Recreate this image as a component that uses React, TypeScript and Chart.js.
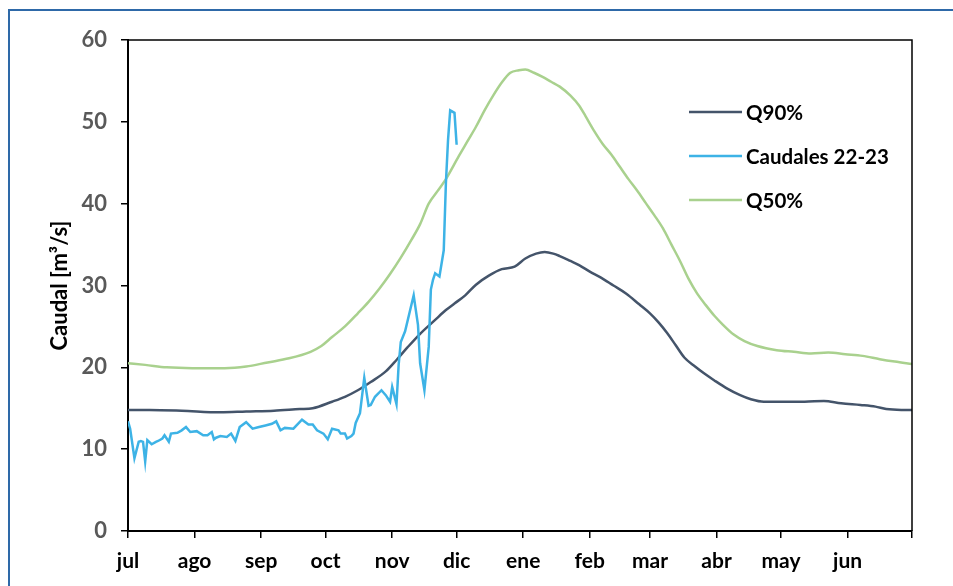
import React, { useEffect, useRef } from "react";
import { Chart, registerables } from "chart.js";

Chart.register(...registerables);

// Month tick labels (first day of each month, hydrological year jul-jun)
const monthLabels = ["jul", "ago", "sep", "oct", "nov", "dic", "ene", "feb", "mar", "abr", "may", "jun", ""];
const monthStartDays = [0, 31, 62, 92, 123, 153, 184, 215, 243, 274, 304, 335, 365];

// Q90%
const q90Days = [0, 10, 25, 43, 55, 68, 80, 86, 95, 101, 107, 113, 120, 125, 130, 136, 143, 148, 152, 157, 162, 168, 174, 180, 185, 190, 194, 198, 201, 206, 210, 215, 220, 226, 232, 238, 243, 247, 251, 255, 259, 264, 268, 273, 279, 285, 290, 296, 302, 315, 324, 332, 341, 348, 353, 360, 365];
const q90Values = [14.8, 14.8, 14.7, 14.5, 14.6, 14.7, 14.9, 15.0, 15.8, 16.4, 17.2, 18.2, 19.5, 20.9, 22.4, 24.1, 25.8, 27.0, 27.8, 28.8, 30.1, 31.2, 32.0, 32.3, 33.3, 33.9, 34.1, 33.9, 33.6, 33.0, 32.5, 31.7, 31.0, 30.0, 29.0, 27.7, 26.6, 25.5, 24.2, 22.7, 21.2, 20.1, 19.3, 18.4, 17.4, 16.6, 16.1, 15.8, 15.8, 15.8, 15.9, 15.6, 15.4, 15.2, 14.9, 14.8, 14.8];

// Q50%
const q50Days = [0, 8, 18, 30, 45, 55, 65, 75, 85, 90, 95, 101, 107, 112, 117, 122, 127, 132, 136, 140, 144, 148, 154, 158, 162, 166, 170, 174, 178, 182, 185, 189, 193, 197, 201, 206, 210, 213, 217, 221, 225, 229, 233, 237, 241, 245, 249, 253, 257, 261, 265, 269, 273, 277, 282, 287, 293, 302, 310, 318, 326, 334, 342, 350, 357, 365];
const q50Values = [20.5, 20.3, 20.0, 19.9, 19.9, 20.1, 20.6, 21.1, 21.9, 22.6, 23.7, 25.0, 26.6, 28.0, 29.6, 31.4, 33.4, 35.6, 37.5, 40.0, 41.5, 43.0, 45.8, 47.6, 49.4, 51.4, 53.2, 54.8, 56.0, 56.3, 56.4, 56.0, 55.5, 54.9, 54.3, 53.2, 52.0, 50.7, 48.9, 47.3, 46.0, 44.5, 43.0, 41.6, 40.1, 38.6, 37.0, 35.0, 33.0, 30.8, 29.0, 27.6, 26.3, 25.2, 24.0, 23.2, 22.6, 22.1, 21.9, 21.7, 21.8, 21.6, 21.4, 21.0, 20.7, 20.4];

// Caudales 22-23
const caudalDays = [0, 1, 3, 5, 6, 7, 8, 9, 11, 13, 14, 16, 17, 19, 20, 23, 25, 27, 29, 32, 35, 37, 39, 40, 41, 43, 46, 48, 50, 52, 55, 58, 61, 64, 67, 69, 71, 73, 77, 81, 84, 86, 88, 91, 93, 95, 98, 99, 101, 102, 104, 105, 106, 108, 110, 112, 113, 115, 118, 120, 122, 123, 125, 126, 127, 129, 133, 135, 136, 138, 140, 141, 142, 143, 145, 147, 148, 149, 150, 152, 153];
const caudalValues = [13.4, 12.5, 8.9, 10.9, 11.0, 10.9, 8.5, 11.1, 10.6, 10.9, 11.0, 11.3, 11.7, 10.9, 11.9, 12.0, 12.3, 12.7, 12.1, 12.2, 11.7, 11.7, 12.1, 11.2, 11.4, 11.6, 11.5, 11.9, 11.0, 12.7, 13.3, 12.5, 12.7, 12.9, 13.1, 13.4, 12.3, 12.6, 12.5, 13.6, 13.0, 13.0, 12.3, 11.9, 11.2, 12.5, 12.3, 11.9, 11.9, 11.3, 11.6, 11.9, 13.2, 14.4, 18.7, 15.3, 15.4, 16.4, 17.2, 16.6, 15.8, 17.6, 15.5, 20.3, 23.1, 24.4, 28.8, 25.2, 20.5, 17.2, 22.5, 29.5, 30.7, 31.5, 31.1, 34.3, 42.5, 47.8, 51.4, 51.1, 47.2];

const legendOrder = ["Q90%", "Caudales 22-23", "Q50%"];

const FONT = 'Lato, "Open Sans", "Liberation Sans", sans-serif';

const toXY = (days: number[], vals: number[]) => days.map((d, i) => ({ x: d, y: vals[i] }));

const framePlugin = {
  id: "frame",
  afterDraw(chart: any) {
    const { ctx, chartArea } = chart;
    ctx.save();
    ctx.strokeStyle = "#000";
    ctx.lineWidth = 1.5;
    ctx.beginPath();
    ctx.moveTo(chartArea.left, chartArea.top);
    ctx.lineTo(chartArea.right, chartArea.top);
    ctx.lineTo(chartArea.right, chartArea.bottom);
    ctx.stroke();
    ctx.restore();
  },
};

const legendPlugin = {
  id: "customLegend",
  afterDraw(chart: any) {
    const { ctx, chartArea } = chart;
    ctx.save();
    ctx.font = `bold 20.5px ${FONT}`;
    ctx.textBaseline = "middle";
    ctx.textAlign = "left";
    legendOrder.forEach((label, i) => {
      const ds = chart.data.datasets.find((d: any) => d.label === label);
      if (!ds) return;
      const y = chartArea.top + 72 + i * 44;
      const x0 = chartArea.right - 223;
      ctx.strokeStyle = ds.borderColor;
      ctx.lineWidth = ds.borderWidth;
      ctx.beginPath();
      ctx.moveTo(x0, y);
      ctx.lineTo(x0 + 53, y);
      ctx.stroke();
      ctx.fillStyle = "#000";
      ctx.fillText(label, x0 + 57, y + 1);
    });
    ctx.restore();
  },
};

function ChartView() {
  const ref = useRef<HTMLCanvasElement | null>(null);
  useEffect(() => {
    if (!ref.current) return;
    const chart = new Chart(ref.current, {
      type: "line",
      data: {
        datasets: [
          {
            label: "Caudales 22-23",
            data: toXY(caudalDays, caudalValues),
            borderColor: "#3DB3E6",
            borderWidth: 2.5,
            pointRadius: 0,
            tension: 0,
          },
          {
            label: "Q90%",
            data: toXY(q90Days, q90Values),
            borderColor: "#44546A",
            borderWidth: 2.5,
            pointRadius: 0,
            cubicInterpolationMode: "monotone",
          },
          {
            label: "Q50%",
            data: toXY(q50Days, q50Values),
            borderColor: "#A9D18E",
            borderWidth: 2.5,
            pointRadius: 0,
            cubicInterpolationMode: "monotone",
          },
        ],
      },
      options: {
        responsive: false,
        animation: false,
        layout: { padding: { left: 0, top: 40, right: 41, bottom: 0 } },
        plugins: {
          legend: { display: false },
          tooltip: { enabled: false },
        },
        scales: {
          x: {
            type: "linear",
            min: 0,
            max: 365,
            afterBuildTicks: (scale: any) => {
              scale.ticks = monthStartDays.map((v) => ({ value: v }));
            },
            afterFit: (scale: any) => {
              scale.height = 55;
            },
            ticks: {
              autoSkip: false,
              maxRotation: 0,
              minRotation: 0,
              padding: 11,
              color: "#000",
              font: { family: FONT, size: 21, weight: "bold" },
              callback: (_v: any, i: number) => monthLabels[i],
            },
            grid: {
              drawOnChartArea: false,
              drawTicks: true,
              tickLength: 7,
              color: "#000",
              lineWidth: 1.5,
            },
            border: { color: "#000", width: 2 },
          },
          y: {
            min: 0,
            max: 60,
            afterFit: (scale: any) => {
              scale.width = 128;
            },
            ticks: {
              stepSize: 10,
              padding: 14,
              color: "#595959",
              font: { family: FONT, size: 22, weight: "bold" },
            },
            grid: {
              drawOnChartArea: false,
              drawTicks: true,
              tickLength: 7,
              color: "#000",
              lineWidth: 1.5,
            },
            border: { color: "#000", width: 2 },
            title: {
              display: true,
              text: "Caudal [m³/s]",
              color: "#000",
              font: { family: FONT, size: 22, weight: "bold" },
              padding: { top: 47, bottom: 0 },
            },
          },
        },
      },
      plugins: [framePlugin, legendPlugin],
    } as any);
    return () => chart.destroy();
  }, []);
  return (
    <canvas
      ref={ref}
      width={953}
      height={586}
      style={{ width: 953, height: 586, display: "block" }}
    />
  );
}

export default function App() {
  return (
    <>
      <div
        style={{
          position: "absolute",
          left: 8,
          top: 9,
          width: 945,
          height: 577,
          boxSizing: "border-box",
          borderLeft: "2px solid #2E69A8",
          borderTop: "2px solid #2E69A8",
        }}
      />
      <div style={{ position: "absolute", left: 0, top: 0, width: 953, height: 586 }}>
        <ChartView />
      </div>
    </>
  );
}
